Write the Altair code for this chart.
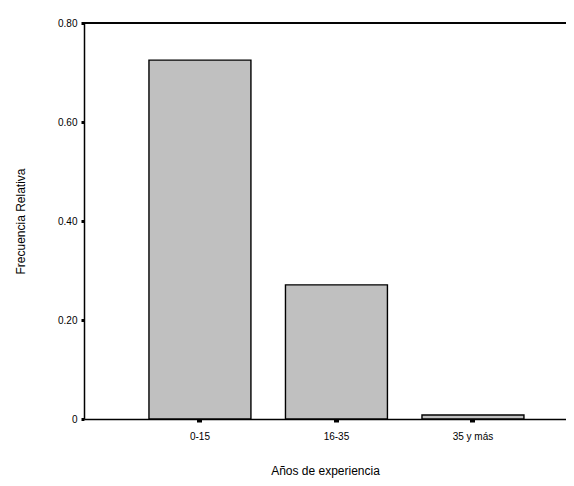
import altair as alt
import pandas as pd

categories = ["0-15", "16-35", "35 y más"]
values = [0.725, 0.271, 0.008]
y_ticks = [0, 0.2, 0.4, 0.6, 0.8]

df = pd.DataFrame({"cat": categories, "val": values})

FONT = "Liberation Sans"

bars = alt.Chart(df).mark_bar(
    fill="#c0c0c0", stroke="#000000", strokeWidth=1.4
).encode(
    x=alt.X(
        "cat:N",
        sort=categories,
        scale=alt.Scale(paddingInner=0.253, paddingOuter=0.392, align=0.607),
        axis=alt.Axis(
            title="Años de experiencia",
            labelAngle=0,
            labelFont=FONT,
            labelFontSize=10,
            labelColor="#000000",
            labelPadding=9,
            tickSize=3,
            tickWidth=5,
            tickColor="#000000",
            domainColor="#000000",
            domainWidth=1.5,
            titleFont=FONT,
            titleFontSize=12,
            titleFontWeight="normal",
            titleColor="#000000",
            titlePadding=24,
        ),
    ),
    y=alt.Y(
        "val:Q",
        scale=alt.Scale(domain=[0, 0.8], nice=False),
        axis=alt.Axis(
            title="Frecuencia Relativa",
            values=y_ticks,
            labelExpr="datum.value == 0 ? '0' : format(datum.value, '.2f')",
            labelFont=FONT,
            labelFontSize=10,
            labelColor="#000000",
            labelPadding=4,
            tickSize=3,
            tickWidth=3,
            tickColor="#000000",
            domainColor="#000000",
            domainWidth=1.5,
            grid=False,
            titleFont=FONT,
            titleFontSize=12,
            titleFontWeight="normal",
            titleColor="#000000",
            titlePadding=30,
        ),
    ),
)

top_line = alt.Chart(df).mark_rule(color="#000000", strokeWidth=1.5).encode(
    y=alt.value(0)
)

chart = alt.layer(bars, top_line).properties(
    width=482,
    height=396,
    autosize=alt.AutoSizeParams(type="none"),
    padding={"left": 76, "top": 15, "right": 0, "bottom": 59},
).configure_view(stroke=None).configure(background="#ffffff")

chart.save("out.html", embed_options={"renderer": "svg", "actions": False})
